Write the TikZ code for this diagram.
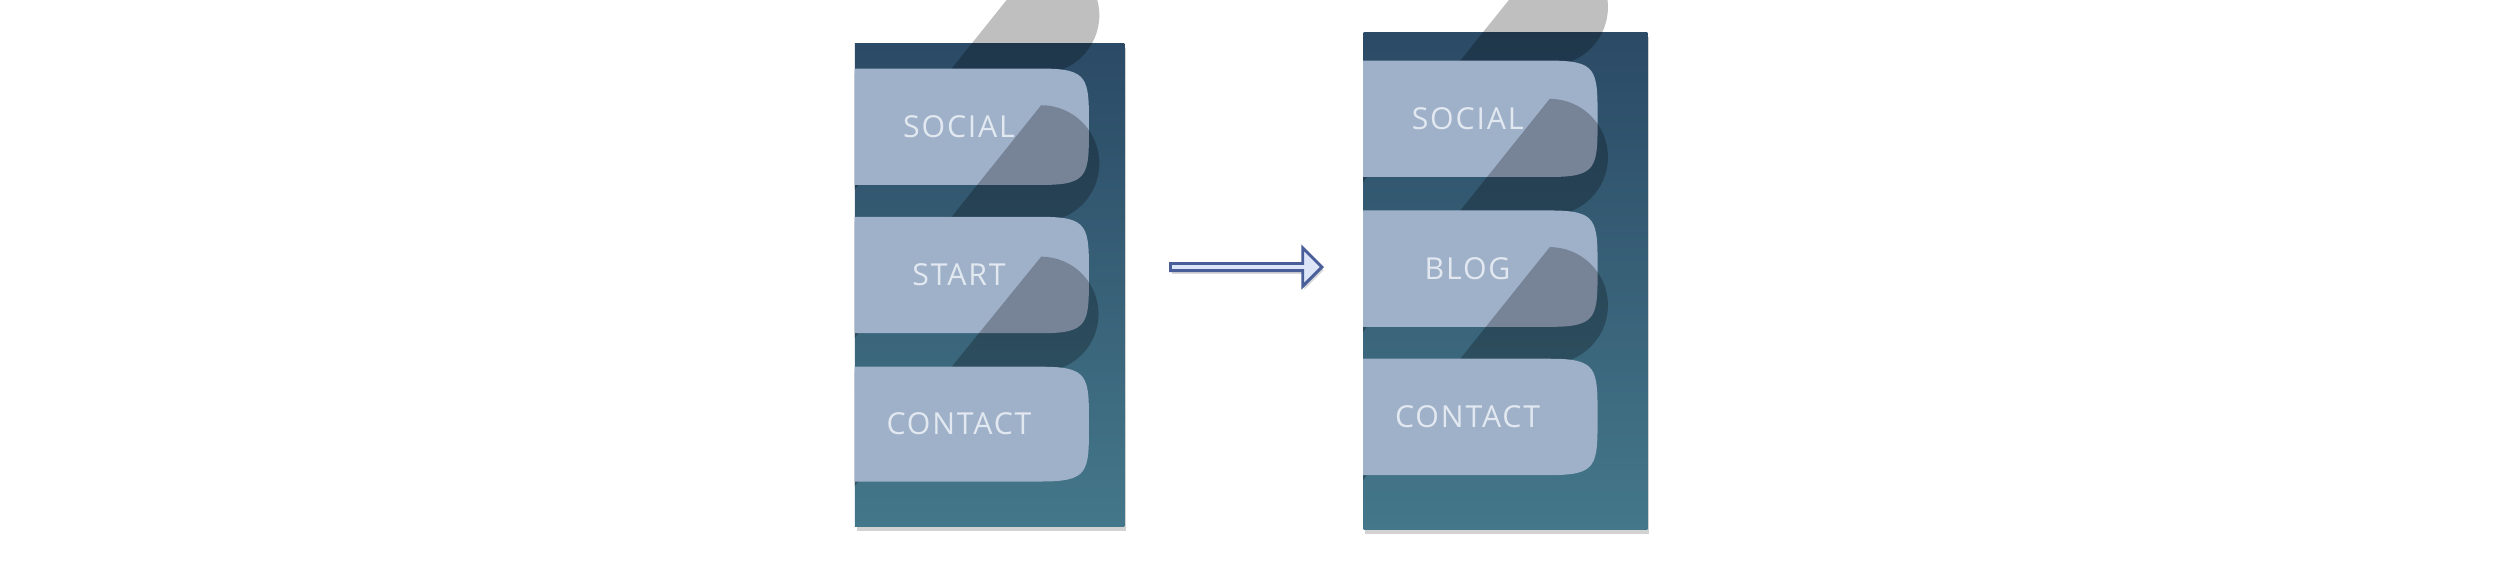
\documentclass[tikz,border=0pt]{standalone}
\usepackage{fontspec}
\setmainfont{Open Sans}[LetterSpace=6]
\usetikzlibrary{shadows,shapes.arrows}
\definecolor{ptop}{HTML}{2B4A65}
\definecolor{pbot}{HTML}{44778A}
\definecolor{btn}{HTML}{9FB0C9}
\definecolor{btxt}{HTML}{E2E8F0}
\definecolor{afill}{HTML}{DDE6F8}
\definecolor{aline}{HTML}{4A5E9A}
\tikzset{
 panel/.style={top color=ptop,bottom color=pbot,draw=none,drop shadow={opacity=0.35,shadow xshift=1pt,shadow yshift=-3pt}},
 lbl/.style={text=btxt,font=\fontsize{19}{20}\selectfont}
}
\newcommand{\mybtn}[5]{% x0,x1,ytop,ybot,name
 \fill[black,opacity=0.25] (#1,#3+3) -- (#2-30,#3+3) arc[start angle=90,end angle=-90,radius=(#4-#3)/2] -- (#1,#4+3) -- cycle;
 \fill[btn] (#1,#3) -- (#2-30,#3) .. controls (#2,#3) and (#2,#3+6) .. (#2,#3/2+#4/2) .. controls (#2,#4-6) and (#2,#4) .. (#2-30,#4) -- (#1,#4) -- cycle;
 \coordinate (#5) at (#1/2+#2/2-8,#3/2+#4/2);}
\begin{document}
\begin{tikzpicture}[x=1pt,y=-1pt]
\useasboundingbox[fill=white] (0,0) rectangle (1568,359);
\node[panel,minimum width=169pt,minimum height=303pt,inner sep=0,anchor=north west] (lp) at (536,27) {};
\node[panel,minimum width=178pt,minimum height=312pt,inner sep=0,anchor=north west] (rp) at (855,20) {};
\mybtn{536}{683}{43}{116}{b1}
\mybtn{536}{683}{136}{209}{b2}
\mybtn{536}{683}{230}{302}{b3}
\mybtn{855}{1002}{38}{111}{c1}
\mybtn{855}{1002}{132}{205}{c2}
\mybtn{855}{1002}{225}{298}{c3}
\node[lbl] (t1) at (b1) {SOCIAL};
\node[lbl] (t2) at (b2) {START};
\node[lbl] (t3) at (b3) {CONTACT};
\node[lbl] (u1) at (c1) {SOCIAL};
\node[lbl] (u2) at (c2) {BLOG};
\node[lbl] (u3) at (c3) {CONTACT};
\node[single arrow,fill=afill,draw=aline,line width=1.8pt,minimum width=24pt,single arrow head extend=4pt,single arrow tip angle=90,minimum height=95pt,inner sep=0,drop shadow={opacity=0.3,shadow xshift=1pt,shadow yshift=-2pt}] (ar) at (780.5,167.5) {};
\end{tikzpicture}
\end{document}
